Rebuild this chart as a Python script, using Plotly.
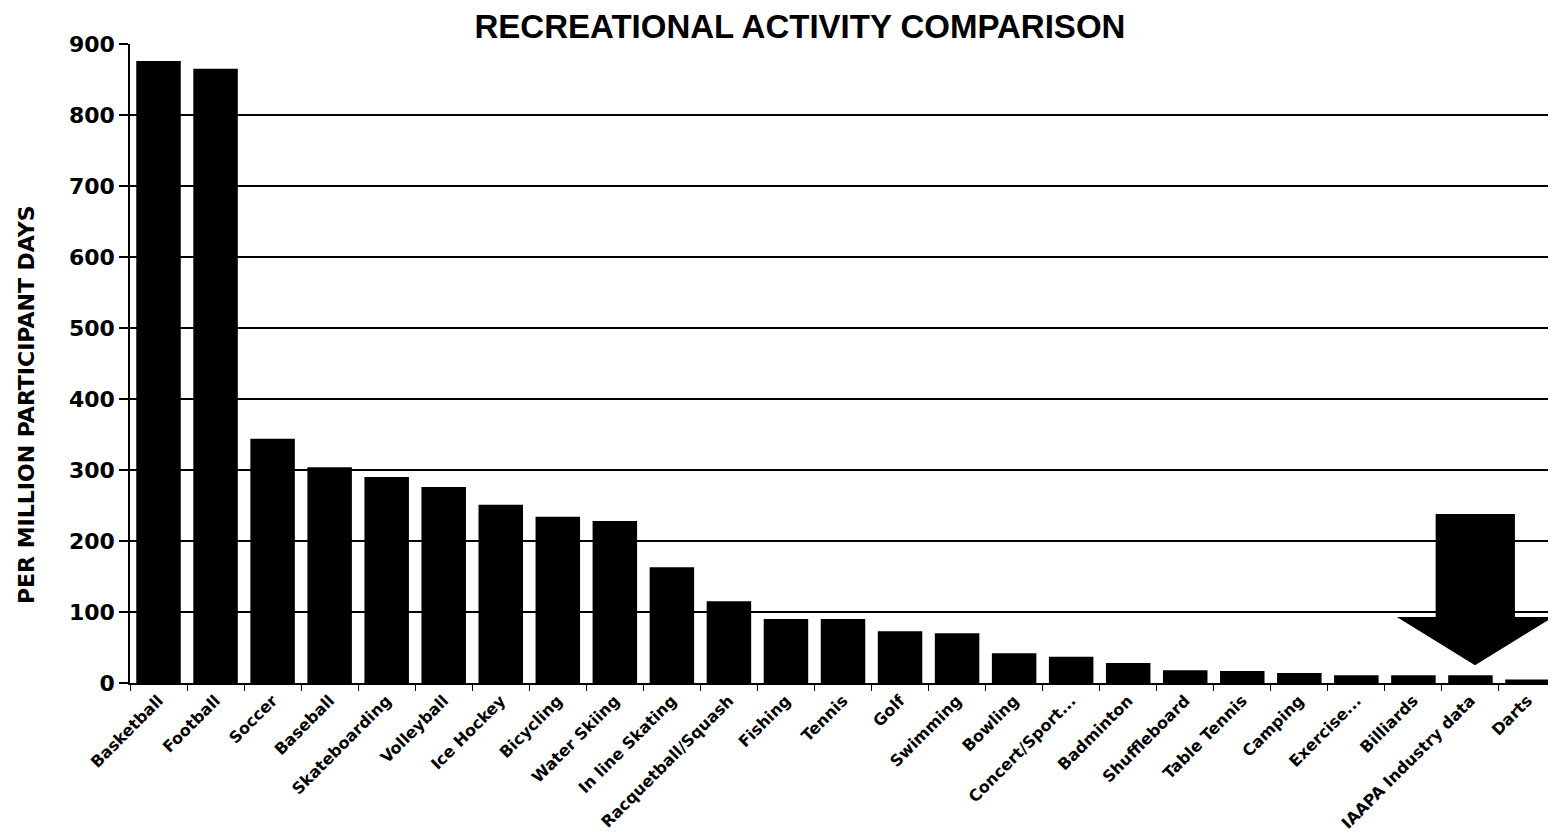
import plotly.graph_objects as go

categories = ["Basketball", "Football", "Soccer", "Baseball", "Skateboarding", "Volleyball",
              "Ice Hockey", "Bicycling", "Water Skiing", "In line Skating", "Racquetball/Squash",
              "Fishing", "Tennis", "Golf", "Swimming", "Bowling", "Concert/Sport...",
              "Badminton", "Shuffleboard", "Table Tennis", "Camping", "Exercise...",
              "Billiards", "IAAPA Industry data", "Darts"]
values = [876, 865, 344, 304, 290, 276, 251, 234, 228, 163, 115, 90, 90, 73, 70, 42, 37,
          28, 18, 17, 14, 11, 11, 11, 5]
y_ticks = [0, 100, 200, 300, 400, 500, 600, 700, 800, 900]

fig = go.Figure(go.Bar(x=categories, y=values, marker=dict(color="black", line=dict(width=0))))

# Arrow pointing at IAAPA industry data
arrow_path = ("M 22.39 238 L 23.78 238 L 23.78 93 L 24.45 93 L 23.08 25 "
              "L 21.71 93 L 22.39 93 Z")
fig.add_shape(type="path", path=arrow_path, xref="x", yref="y",
              fillcolor="black", line=dict(color="black", width=0))

fig.add_annotation(text="PER MILLION PARTICIPANT DAYS", xref="paper", yref="paper",
                   x=-0.0729, y=0.435, xanchor="center", yanchor="middle", textangle=-90,
                   showarrow=False, font=dict(size=22, family="DejaVu Sans", weight="bold",
                                              color="black"))

fig.update_layout(
    width=1548, height=830,
    margin=dict(l=122, r=0, t=36, b=155),
    paper_bgcolor="white", plot_bgcolor="white",
    bargap=0.22,
    showlegend=False,
    font=dict(family="DejaVu Sans, sans-serif", color="black"),
    title=dict(text="RECREATIONAL ACTIVITY COMPARISON", x=0.5116, xanchor="center",
               y=0.978, yanchor="middle",
               font=dict(size=33, color="black", family="Liberation Sans, Arial", weight="bold")),
    xaxis=dict(tickangle=-45, tickfont=dict(size=16, family="DejaVu Sans", weight="bold"),
               ticks="outside", tickson="boundaries", ticklen=6, tickcolor="black",
               showline=True, linecolor="black", linewidth=2, showgrid=False,
               range=[-0.5, 24.5]),
    yaxis=dict(range=[0, 900], tickvals=y_ticks, ticks="outside", ticklen=9,
               tickcolor="black", tickwidth=1.5,
               tickfont=dict(size=22, family="DejaVu Sans", weight="bold"),
               showline=True, linecolor="black", linewidth=1.5,
               showgrid=True, gridcolor="black", gridwidth=1.5, zeroline=False),
)

fig.write_html("out.html")
